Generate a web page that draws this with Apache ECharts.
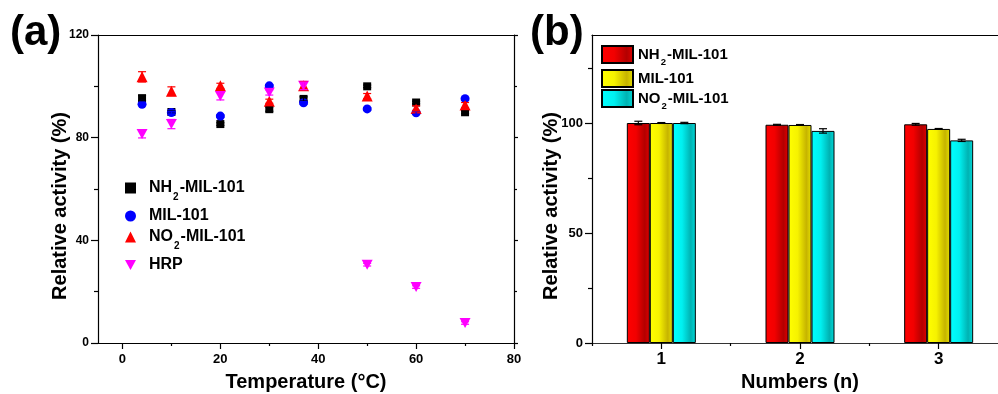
<!DOCTYPE html>
<html>
<head>
<meta charset="utf-8">
<script src="https://cdn.jsdelivr.net/npm/echarts@6/dist/echarts.min.js"></script>
<style>
html,body{margin:0;padding:0;background:#fff;}
#c{width:998px;height:394px;}
</style>
</head>
<body>
<div id="c"></div>
<script>
// ---------- DATA ----------
const temps = [4, 10, 20, 30, 37, 50, 60, 70];
const nh2Temp = [95.4, 90.0, 85.3, 91.1, 95.1, 100.0, 93.7, 89.9];
const nh2TempErr = [1.0, 0.5, 0.5, 0.8, 0.8, 0.5, 0.5, 0.5];
const milTemp = [93.0, 89.8, 88.4, 100.2, 93.6, 91.2, 89.7, 95.2];
const milTempErr = [0.5, 0.5, 0.5, 0.5, 0.5, 0.5, 0.5, 0.5];
const no2Temp = [103.7, 98.1, 100.2, 94.2, 100.2, 96.2, 91.4, 92.7];
const no2TempErr = [2.0, 1.7, 1.0, 0.8, 1.7, 1.0, 1.0, 1.0];
const hrpTemp = [81.4, 85.3, 96.2, 97.6, 100.2, 30.5, 21.8, 7.8];
const hrpTempErr = [1.5, 1.8, 1.5, 1.0, 1.5, 0.5, 0.5, 0.5];

const tempTicks = [0, 20, 40, 60, 80];
const tempMinorTicks = [10, 30, 50, 70];

const cycles = ['1', '2', '3'];
const nh2Cycle = [100.0, 99.2, 99.4];
const nh2CycleErr = [0.8, 0.2, 0.4];
const milCycle = [100.0, 99.1, 97.3];
const milCycleErr = [0.2, 0.2, 0.2];
const no2Cycle = [100.0, 96.4, 92.1];
const no2CycleErr = [0.3, 1.0, 0.5];

const actTicksB = [0, 50, 100];
const actMinorTicksB = [25, 75, 125];

const names = ['NH2-MIL-101', 'MIL-101', 'NO2-MIL-101', 'HRP'];
const SUFFIX_B = ' (cycles)';
const namesB = names.slice(0, 3).map(n => n + SUFFIX_B);

// ---------- STYLE ----------
const FONT = '"Liberation Sans", Arial, sans-serif';
const BAR_W = 23;
const AX = '#000';
const LW = 1.2;

const richA = {
  b: {fontFamily: FONT, fontWeight: 'bold', fontSize: 16, color: '#000', lineHeight: 20},
  s: {fontFamily: FONT, fontWeight: 'bold', fontSize: 10, color: '#000', lineHeight: 12, verticalAlign: 'bottom', padding: [0, 1, -4, 1]}
};
const richB = {
  b: {fontFamily: FONT, fontWeight: 'bold', fontSize: 15, color: '#000', lineHeight: 18},
  s: {fontFamily: FONT, fontWeight: 'bold', fontSize: 9.5, color: '#000', lineHeight: 11, verticalAlign: 'bottom', padding: [0, 1, -4, 1]}
};
function fmtName(n) {
  n = n.replace(SUFFIX_B, '');
  if (n.indexOf('2') === 2) return '{b|' + n.slice(0, 2) + '}{s|2}{b|' + n.slice(3) + '}';
  return '{b|' + n + '}';
}

function zip(xs, ys) { return xs.map((x, i) => [x, ys[i]]); }
function errData(xs, ys, es) { return xs.map((x, i) => [x, ys[i] - es[i], ys[i] + es[i]]); }

function errSeries(data, color, xi, yi, offset) {
  return {
    type: 'custom', xAxisIndex: xi, yAxisIndex: yi, silent: true, z: 5,
    data: data,
    renderItem: function (params, api) {
      const x = api.value(0), lo = api.value(1), hi = api.value(2);
      const p1 = api.coord([x, lo]);
      const p2 = api.coord([x, hi]);
      const cx = p1[0] + (offset || 0);
      const cap = 4;
      const st = {stroke: color, lineWidth: 1.2};
      return {
        type: 'group',
        children: [
          {type: 'line', shape: {x1: cx, y1: p1[1], x2: cx, y2: p2[1]}, style: st},
          {type: 'line', shape: {x1: cx - cap, y1: p1[1], x2: cx + cap, y2: p1[1]}, style: st},
          {type: 'line', shape: {x1: cx - cap, y1: p2[1], x2: cx + cap, y2: p2[1]}, style: st}
        ]
      };
    }
  };
}

function grad(c0, c1, c2, c3) {
  return {type: 'linear', x: 0, y: 0, x2: 1, y2: 0, colorStops: [
    {offset: 0, color: c0}, {offset: 0.4, color: c1}, {offset: 0.78, color: c2}, {offset: 1, color: c3}]};
}
const redG = grad('#ff0000', '#f20000', '#b30000', '#e00000');
const yelG = grad('#ffff00', '#f6f200', '#c6b400', '#e6e000');
const cyaG = grad('#00ffff', '#00f0f0', '#00b2b2', '#00dada');

const labA = {fontFamily: FONT, fontWeight: 'bold', color: '#000'};

const chart = echarts.init(document.getElementById('c'), null, {renderer: 'canvas'});

const downTri = 'path://M0,0L10,0L5,9Z';

function legendA(name, top, icon) {
  return {
    data: [{name: name, icon: icon}], left: 125, top: top, itemWidth: 11, itemHeight: 11,
    padding: 0, selectedMode: false,
    formatter: fmtName, textStyle: {rich: richA, padding: [0, 0, 0, 8]}
  };
}
function legendB(name, top) {
  return {
    data: [{name: name, icon: 'rect'}], left: 601, top: top, itemWidth: 31, itemHeight: 17, padding: 0,
    selectedMode: false, formatter: fmtName, textStyle: {rich: richB, padding: [0, 0, 0, 0]}
  };
}

const option = {
  animation: false,
  backgroundColor: '#fff',
  grid: [
    {left: 98, right: 484, top: 35, bottom: 51, containLabel: false, outerBoundsMode: 'none'},
    {left: 592, right: -10, top: 35, bottom: 51, containLabel: false, outerBoundsMode: 'none'}
  ],
  legend: [
    legendA(names[0], 180, 'rect'),
    legendA(names[1], 208, 'circle'),
    legendA(names[2], 229, 'triangle'),
    legendA(names[3], 257, downTri),
    legendB(namesB[0], 45),
    legendB(namesB[1], 69),
    legendB(namesB[2], 89)
  ],
  graphic: [
    {type: 'text', left: 10, top: 12, style: {text: '(a)', fontFamily: FONT, fontWeight: 'bold', fontSize: 42, fill: '#000'}},
    {type: 'text', left: 530, top: 12, style: {text: '(b)', fontFamily: FONT, fontWeight: 'bold', fontSize: 42, fill: '#000'}},
    {type: 'text', x: 60, y: 206, rotation: Math.PI / 2,
      style: {text: 'Relative activity (%)', fontFamily: FONT, fontWeight: 'bold', fontSize: 20, fill: '#000', align: 'center', verticalAlign: 'middle'}},
    {type: 'text', x: 551, y: 206, rotation: Math.PI / 2,
      style: {text: 'Relative activity (%)', fontFamily: FONT, fontWeight: 'bold', fontSize: 20, fill: '#000', align: 'center', verticalAlign: 'middle'}}
  ],
  xAxis: [
    { // 0: (a) bottom
      type: 'value', gridIndex: 0, min: -5, max: 80, position: 'bottom',
      name: 'Temperature (°C)', nameLocation: 'middle', nameGap: 29,
      nameTextStyle: {fontFamily: FONT, fontWeight: 'bold', fontSize: 20, color: '#000'},
      axisLine: {show: true, onZero: false, lineStyle: {color: AX, width: LW}},
      axisTick: {show: true, inside: false, length: 6, customValues: tempTicks, lineStyle: {color: AX, width: LW}},
      axisLabel: Object.assign({fontSize: 13, margin: 10, customValues: tempTicks}, labA),
      splitLine: {show: false}
    },
    { // 1: (a) minor ticks
      type: 'value', gridIndex: 0, min: -5, max: 80, position: 'bottom',
      axisLine: {show: false, onZero: false},
      axisTick: {show: true, inside: false, length: 3, customValues: tempMinorTicks, lineStyle: {color: AX, width: LW}},
      axisLabel: {show: false}, splitLine: {show: false}
    },
    { // 2: (a) top
      type: 'value', gridIndex: 0, min: -5, max: 80, position: 'top',
      axisLine: {show: true, onZero: false, lineStyle: {color: AX, width: LW}},
      axisTick: {show: false}, axisLabel: {show: false}, splitLine: {show: false}
    },
    { // 3: (b) bottom category
      type: 'category', gridIndex: 1, data: cycles, position: 'bottom',
      name: 'Numbers (n)', nameLocation: 'middle', nameGap: 29,
      nameTextStyle: {fontFamily: FONT, fontWeight: 'bold', fontSize: 20, color: '#000'},
      axisLine: {show: true, onZero: false, lineStyle: {color: '#333', width: LW}},
      axisTick: {show: true, inside: false, alignWithLabel: true, length: 6, lineStyle: {color: AX, width: LW}},
      axisLabel: Object.assign({fontSize: 17, margin: 8}, labA),
      splitLine: {show: false}
    },
    { // 4: (b) minor ticks at boundaries
      type: 'category', gridIndex: 1, data: cycles, position: 'bottom',
      axisLine: {show: false, onZero: false},
      axisTick: {show: true, inside: false, alignWithLabel: false, interval: 0, length: 3, lineStyle: {color: AX, width: LW}},
      axisLabel: {show: false}, splitLine: {show: false}
    },
    { // 5: (b) top
      type: 'category', gridIndex: 1, data: cycles, position: 'top',
      axisLine: {show: true, onZero: false, lineStyle: {color: AX, width: LW}},
      axisTick: {show: false}, axisLabel: {show: false}, splitLine: {show: false}
    }
  ],
  yAxis: [
    { // 0: (a) left
      type: 'value', gridIndex: 0, min: 0, max: 120, interval: 40, position: 'left',
      axisLine: {show: true, onZero: false, lineStyle: {color: AX, width: LW}},
      axisTick: {show: true, inside: false, length: 7, lineStyle: {color: AX, width: LW}},
      minorTick: {show: true, splitNumber: 2, length: 4, lineStyle: {color: AX, width: LW}},
      axisLabel: Object.assign({fontSize: 12, margin: 9}, labA),
      splitLine: {show: false}, minorSplitLine: {show: false}
    },
    { // 1: (a) right
      type: 'value', gridIndex: 0, min: 0, max: 120, interval: 40, position: 'right',
      axisLine: {show: true, onZero: false, lineStyle: {color: AX, width: LW}},
      axisTick: {show: true, inside: false, length: 4, lineStyle: {color: AX, width: LW}},
      minorTick: {show: true, splitNumber: 2, length: 3, lineStyle: {color: AX, width: LW}},
      axisLabel: {show: false}, splitLine: {show: false}
    },
    { // 2: (b) left
      type: 'value', gridIndex: 1, min: 0, max: 140, position: 'left',
      axisLine: {show: true, onZero: false, lineStyle: {color: AX, width: LW}},
      axisTick: {show: true, inside: false, length: 7, customValues: actTicksB, lineStyle: {color: AX, width: LW}},
      axisLabel: Object.assign({fontSize: 13, margin: 9, customValues: actTicksB}, labA),
      splitLine: {show: false}
    },
    { // 3: (b) minor
      type: 'value', gridIndex: 1, min: 0, max: 140, position: 'left',
      axisLine: {show: false, onZero: false},
      axisTick: {show: true, inside: false, length: 4, customValues: actMinorTicksB, lineStyle: {color: AX, width: LW}},
      axisLabel: {show: false}, splitLine: {show: false}
    }
  ],
  series: [
    {name: names[0], type: 'scatter', xAxisIndex: 0, yAxisIndex: 0, symbol: 'rect', symbolSize: 8,
      itemStyle: {color: '#000', opacity: 1}, data: zip(temps, nh2Temp), z: 2},
    errSeries(errData(temps, nh2Temp, nh2TempErr), '#000', 0, 0),
    {name: names[1], type: 'scatter', xAxisIndex: 0, yAxisIndex: 0, symbol: 'circle', symbolSize: 9,
      itemStyle: {color: '#0000ff', opacity: 1}, data: zip(temps, milTemp), z: 2},
    errSeries(errData(temps, milTemp, milTempErr), '#0000ff', 0, 0),
    {name: names[2], type: 'scatter', xAxisIndex: 0, yAxisIndex: 0, symbol: 'triangle', symbolSize: 11,
      itemStyle: {color: '#ff0000', opacity: 1}, data: zip(temps, no2Temp), z: 2},
    errSeries(errData(temps, no2Temp, no2TempErr), '#ff0000', 0, 0),
    {name: names[3], type: 'scatter', xAxisIndex: 0, yAxisIndex: 0, symbol: downTri, symbolSize: [11, 10],
      itemStyle: {color: '#ff00ff', opacity: 1}, data: zip(temps, hrpTemp), z: 2},
    errSeries(errData(temps, hrpTemp, hrpTempErr), '#ff00ff', 0, 0),

    {name: namesB[0], type: 'bar', xAxisIndex: 3, yAxisIndex: 2, barWidth: BAR_W, barGap: '0%',
      itemStyle: {color: redG, borderColor: '#000', borderWidth: 1}, data: nh2Cycle},
    {name: namesB[1], type: 'bar', xAxisIndex: 3, yAxisIndex: 2, barWidth: BAR_W, barGap: '0%',
      itemStyle: {color: yelG, borderColor: '#000', borderWidth: 1}, data: milCycle},
    {name: namesB[2], type: 'bar', xAxisIndex: 3, yAxisIndex: 2, barWidth: BAR_W, barGap: '0%',
      itemStyle: {color: cyaG, borderColor: '#000', borderWidth: 1}, data: no2Cycle},
    errSeries(errData([0, 1, 2], nh2Cycle, nh2CycleErr), '#000', 3, 2, -BAR_W),
    errSeries(errData([0, 1, 2], milCycle, milCycleErr), '#000', 3, 2, 0),
    errSeries(errData([0, 1, 2], no2Cycle, no2CycleErr), '#000', 3, 2, BAR_W)
  ]
};
chart.setOption(option);
</script>
</body>
</html>
